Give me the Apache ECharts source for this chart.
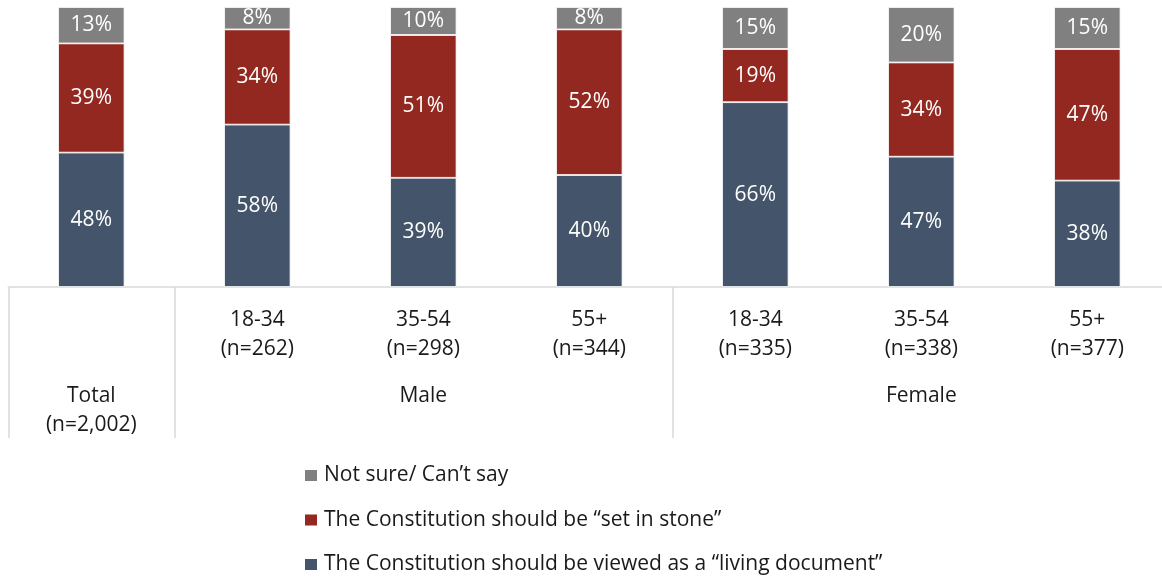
<!DOCTYPE html>
<html>
<head>
<meta charset="utf-8">
<script src="https://cdn.jsdelivr.net/npm/echarts@6/dist/echarts.min.js"></script>
<style>
  html, body { margin: 0; padding: 0; background: #ffffff; }
  #chart { width: 1162px; height: 577px; }
</style>
</head>
<body>
<div id="chart"></div>
<script>
// Sub-group labels (one per bar)
const subLabels = ['', '18-34\n(n=262)', '35-54\n(n=298)', '55+\n(n=344)', '18-34\n(n=335)', '35-54\n(n=338)', '55+\n(n=377)'];
// Top-level groups and how many bars each spans
const groupNames = ['Total\n(n=2,002)', 'Male', 'Female'];
const groupSpans = [1, 3, 3];

// Series names
const nameLiving = 'The Constitution should be viewed as a \u201cliving document\u201d';
const nameStone = 'The Constitution should be \u201cset in stone\u201d';
const nameUnsure = 'Not sure/ Can\u2019t say';

// Percentages per bar
const livingValues = [48, 58, 39, 40, 66, 47, 38];
const stoneValues  = [39, 34, 51, 52, 19, 34, 47];
const unsureValues = [13, 8, 10, 8, 15, 20, 15];

const FONT = 'Open Sans';
const COLORS = { living: '#44546A', stone: '#922820', unsure: '#808080' };

// Bars are stacked to 100%: each segment is its share of the bar total
const totals = livingValues.map((v, i) => v + stoneValues[i] + unsureValues[i]);
const share = (arr) => arr.map((v, i) => ({ value: v / totals[i] * 100, raw: v }));

// Group boundaries (left edge category indices) and group centre indices
const boundaryIdx = [];
const groupLabelRow = subLabels.map(() => '');
let start = 0;
groupSpans.forEach((span, g) => {
  boundaryIdx.push(start);
  groupLabelRow[start + Math.floor(span / 2)] = groupNames[g];
  start += span;
});

const chart = echarts.init(document.getElementById('chart'), null, { renderer: 'canvas' });

function barSeries(name, data, color) {
  return {
    name: name,
    type: 'bar',
    stack: 'total',
    barWidth: '40%',
    data: share(data),
    itemStyle: { color: color, borderColor: '#ffffff', borderWidth: 0.8 },
    label: {
      show: true,
      position: 'inside',
      color: '#ffffff',
      fontFamily: FONT,
      fontSize: 21,
      formatter: (p) => p.data.raw + '%'
    }
  };
}

const axisLabelStyle = {
  interval: 0,
  margin: 19,
  color: '#1a1a1a',
  fontFamily: FONT,
  fontSize: 21,
  lineHeight: 29
};

chart.setOption({
  animation: false,
  backgroundColor: '#ffffff',
  grid: { left: 8.3, width: 1162, top: 7, bottom: 290, containLabel: false, outerBoundsMode: 'none' },
  xAxis: [
    {
      type: 'category',
      data: subLabels,
      position: 'bottom',
      axisLine: { show: true, lineStyle: { color: '#D9D9D9', width: 1.5 } },
      axisTick: {
        show: true,
        length: 151,
        interval: (i) => boundaryIdx.indexOf(i) !== -1,
        lineStyle: { color: '#D9D9D9', width: 1.5 }
      },
      axisLabel: axisLabelStyle
    },
    {
      type: 'category',
      data: groupLabelRow,
      position: 'bottom',
      offset: 76,
      axisLine: { show: false },
      axisTick: { show: false },
      axisLabel: axisLabelStyle
    }
  ],
  yAxis: { type: 'value', min: 0, max: 100, show: false },
  legend: {
    orient: 'vertical',
    left: 303,
    top: 464.5,
    padding: 0,
    itemWidth: 14,
    itemHeight: 13,
    itemGap: 22.5,
    icon: 'rect',
    data: [nameUnsure, nameStone, nameLiving],
    textStyle: { fontFamily: FONT, fontSize: 21, color: '#1a1a1a', lineHeight: 22, padding: [0, 0, 0, 1] }
  },
  series: [
    barSeries(nameLiving, livingValues, COLORS.living),
    barSeries(nameStone, stoneValues, COLORS.stone),
    barSeries(nameUnsure, unsureValues, COLORS.unsure)
  ]
});
</script>
</body>
</html>
